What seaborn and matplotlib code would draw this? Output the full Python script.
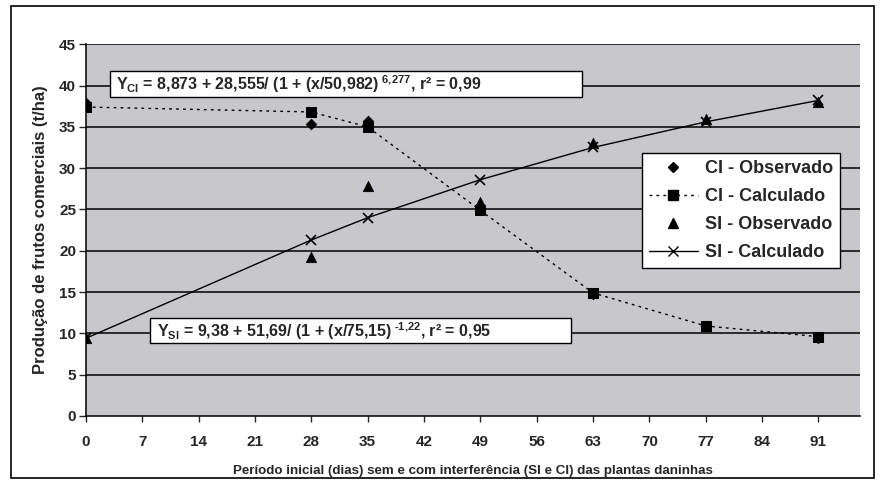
import matplotlib
matplotlib.use("Agg")
import matplotlib.pyplot as plt
import pandas as pd
import seaborn as sns
from matplotlib.lines import Line2D
from matplotlib.patches import Rectangle

sns.set_style("white")
plt.rcParams['font.family'] = ['Liberation Sans', 'DejaVu Sans']
plt.rcParams['font.weight'] = 'bold'
plt.rcParams['axes.labelweight'] = 'bold'
plt.rcParams['mathtext.fontset'] = 'custom'
plt.rcParams['mathtext.rm'] = 'Liberation Sans:bold'
plt.rcParams['mathtext.it'] = 'Liberation Sans:bold'
plt.rcParams['mathtext.bf'] = 'Liberation Sans:bold'

# Data
dias = [0, 28, 35, 49, 63, 77, 91]
ci_obs = [37.9, 35.4, 35.7, 25.4, 14.8, 10.9, 9.4]
ci_calc = [37.4, 36.8, 35.0, 24.9, 14.9, 10.9, 9.6]
si_obs = [9.4, 19.2, 27.8, 25.9, 33.0, 36.0, 38.0]
si_calc = [9.4, 21.3, 24.0, 28.6, 32.5, 35.6, 38.2]
x_ticks = [0, 7, 14, 21, 28, 35, 42, 49, 56, 63, 70, 77, 84, 91]

df = pd.DataFrame({'dias': dias, 'ci_obs': ci_obs, 'ci_calc': ci_calc,
                   'si_obs': si_obs, 'si_calc': si_calc})

fig = plt.figure(figsize=(8.85, 4.97), dpi=100)
ax = fig.add_axes([0.097, 0.163, 0.875, 0.748])
ax.set_facecolor('#c8c8cc')

# outer frame
fig.patches.append(Rectangle((0.012, 0.038), 0.976, 0.950, transform=fig.transFigure,
                             fill=False, edgecolor='black', linewidth=1.2))

for yv in range(5, 46, 5):
    ax.axhline(yv, color='black', linewidth=1.1, zorder=1)

sns.lineplot(data=df, x='dias', y='ci_calc', ax=ax, color='black', linestyle=(0, (2, 3)),
             linewidth=1.0, marker='s', markersize=7, markeredgecolor='black', zorder=3)
sns.lineplot(data=df, x='dias', y='si_calc', ax=ax, color='black', linestyle='-',
             linewidth=1.0, marker='x', markersize=7, markeredgewidth=1.2,
             markeredgecolor='black', zorder=3)
sns.scatterplot(data=df, x='dias', y='ci_obs', ax=ax, color='black', marker='D', s=30,
                edgecolor='black', zorder=4)
sns.scatterplot(data=df, x='dias', y='si_obs', ax=ax, color='black', marker='^', s=55,
                edgecolor='black', zorder=4)

ax.set_xlim(0, 96.2)
ax.set_ylim(0, 45)
ax.set_xticks(x_ticks)
ax.set_yticks(range(0, 46, 5))
ax.tick_params(axis='x', direction='out', length=4, width=1, pad=10, labelsize=11)
ax.tick_params(axis='y', direction='out', length=5, width=1, pad=2, labelsize=11)
ax.xaxis.set_ticks_position('bottom')
ax.yaxis.set_ticks_position('left')
for s in ['top', 'right']:
    ax.spines[s].set_visible(False)
for s in ['left', 'bottom']:
    ax.spines[s].set_color('black')
    ax.spines[s].set_linewidth(1.1)

ax.set_xlabel('Período inicial (dias) sem e com interferência (SI e CI) das plantas daninhas',
              fontsize=9.6, labelpad=11)
ax.set_ylabel('Produção de frutos comerciais (t/ha)', fontsize=12, labelpad=8)

# equation boxes
ax.add_patch(Rectangle((3.0, 38.6), 58.6, 3.2, facecolor='white', edgecolor='black',
                       linewidth=1, zorder=5))
ax.text(3.7, 40.15,
        r"Y$_{\mathrm{CI}}$ = 8,873 + 28,555/ (1 + (x/50,982)$^{\mathrm{\ 6{,}277}}$, r² = 0,99",
        fontsize=11.5, ha='left', va='center', zorder=6)
ax.add_patch(Rectangle((7.95, 8.85), 52.3, 3.0, facecolor='white', edgecolor='black',
                       linewidth=1, zorder=5))
ax.text(8.8, 10.3,
        r"Y$_{\mathrm{SI}}$ = 9,38 + 51,69/ (1 + (x/75,15)$^{\text{ -1,22}}$, r² = 0,95",
        fontsize=11.5, ha='left', va='center', zorder=6)

handles = [
    Line2D([], [], color='black', linestyle='none', marker='D', markersize=5),
    Line2D([], [], color='black', linestyle=(0, (2, 3)), linewidth=1, marker='s', markersize=7),
    Line2D([], [], color='black', linestyle='none', marker='^', markersize=7),
    Line2D([], [], color='black', linestyle='-', linewidth=1, marker='x', markersize=7),
]
labels = ['CI - Observado', 'CI - Calculado', 'SI - Observado', 'SI - Calculado']
leg = ax.legend(handles, labels, loc='upper right', bbox_to_anchor=(0.974, 0.707),
                frameon=True, fancybox=False, edgecolor='black', framealpha=1,
                fontsize=13, handlelength=2.7, borderpad=0.4, labelspacing=0.6,
                handletextpad=0.4, borderaxespad=0)
leg.get_frame().set_linewidth(1)
leg.set_zorder(7)

fig.savefig('out.png', dpi=100)
